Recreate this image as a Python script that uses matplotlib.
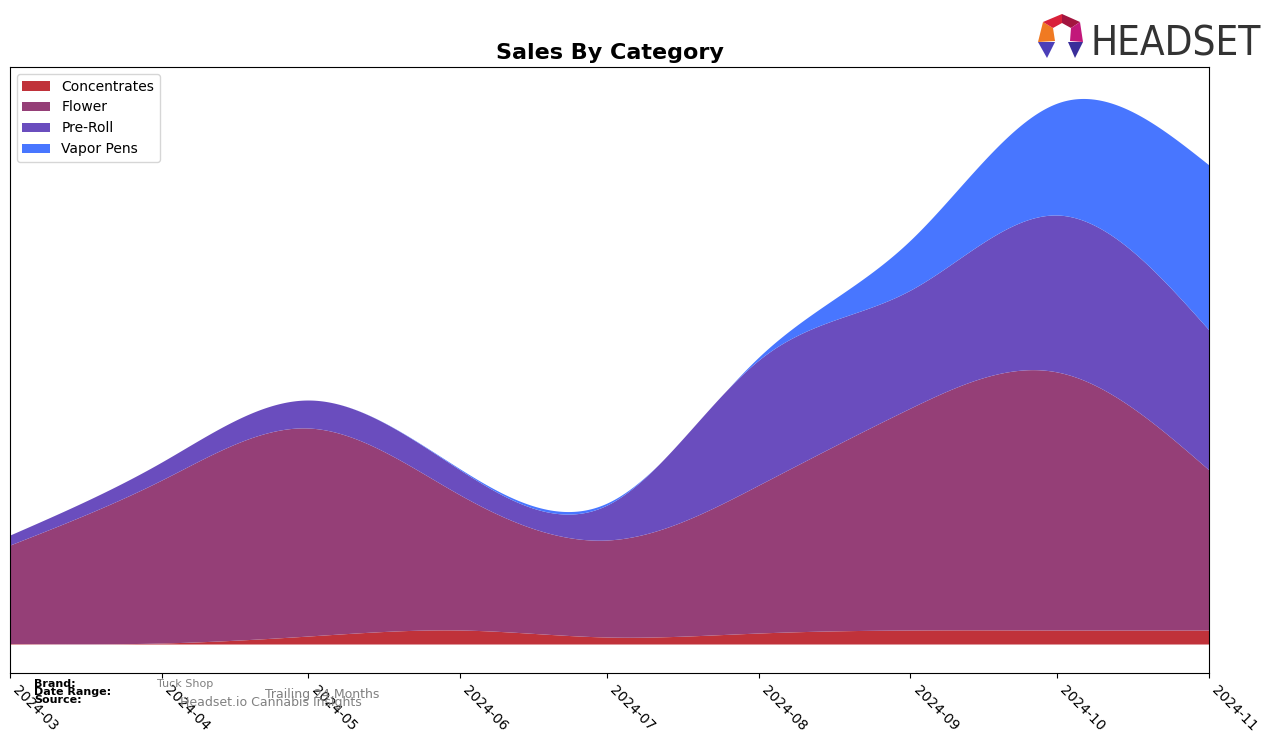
import numpy as np
import pandas as pd
import matplotlib
matplotlib.use("Agg")
import matplotlib.pyplot as plt
import matplotlib.dates as mdates
from matplotlib.patches import Polygon

months = ["2024-03", "2024-04", "2024-05", "2024-06", "2024-07",
          "2024-08", "2024-09", "2024-10", "2024-11"]
categories = ["Concentrates", "Flower", "Pre-Roll", "Vapor Pens"]
concentrates = [0.5, 1, 8, 14, 7, 11, 14, 14, 14]
flower = [98.5, 163, 208, 135, 97, 148, 222, 258, 160]
pre_roll = [10, 18, 28, 25, 35, 125, 118, 157, 140]
vapor_pens = [0, 0, 0, 1, 2, 3, 50, 112, 165]
colors = ["#C0323A", "#953F77", "#6A4DBE", "#4876FF"]


def natural_spline(x, y, xs):
    # plain natural cubic spline, only used to draw smooth edges
    x = np.asarray(x, float)
    y = np.asarray(y, float)
    n = len(x)
    h = np.diff(x)
    A = np.zeros((n, n))
    r = np.zeros(n)
    A[0, 0] = 1
    A[-1, -1] = 1
    for i in range(1, n - 1):
        A[i, i - 1] = h[i - 1]
        A[i, i] = 2 * (h[i - 1] + h[i])
        A[i, i + 1] = h[i]
        r[i] = 6 * ((y[i + 1] - y[i]) / h[i] - (y[i] - y[i - 1]) / h[i - 1])
    m = np.linalg.solve(A, r)
    idx = np.clip(np.searchsorted(x, xs) - 1, 0, n - 2)
    x0, x1 = x[idx], x[idx + 1]
    hh = x1 - x0
    t0 = x1 - xs
    t1 = xs - x0
    return (m[idx] * t0 ** 3 / (6 * hh) + m[idx + 1] * t1 ** 3 / (6 * hh)
            + (y[idx] / hh - m[idx] * hh / 6) * t0
            + (y[idx + 1] / hh - m[idx + 1] * hh / 6) * t1)


dates = pd.to_datetime(months)
xnum = mdates.date2num(dates)
xs = np.linspace(xnum[0], xnum[-1], 600)

W, H = 1276, 743
fig = plt.figure(figsize=(W / 100, H / 100), dpi=100)
ax = fig.add_axes([0.0078, 0.0942, 0.9397, 0.8156])

base = np.zeros_like(xs)
for name, vals, c in zip(categories, [concentrates, flower, pre_roll, vapor_pens], colors):
    layer = np.clip(natural_spline(xnum, vals, xs), 0, None)
    ax.fill_between(xs, base, base + layer, color=c, label=name, linewidth=0)
    base = base + layer

ax.set_xlim(xnum[0], xnum[-1])
ax.set_ylim(-29, 577)
ax.set_xticks(xnum)
ax.set_xticklabels(months, rotation=-45, ha="left", va="top")
ax.set_yticks([])
ax.set_title("Sales By Category", fontsize=16, fontweight="bold")
ax.legend(loc="upper left", fontsize=10)

fig.text(0.027, 0.076, "Brand:", fontsize=8, fontweight="bold")
fig.text(0.027, 0.065, "Date Range:", fontsize=8, fontweight="bold")
fig.text(0.027, 0.054, "Source:", fontsize=8, fontweight="bold")
fig.text(0.123, 0.075, "Tuck Shop", fontsize=8, color="gray")
fig.text(0.208, 0.061, "Trailing 24 Months", fontsize=9, color="gray")
fig.text(0.141, 0.050, "Headset.io Cannabis Insights", fontsize=9, color="gray")

# logo, drawn in pixel positions
def px(pts):
    return [(x / W, 1 - y / H) for x, y in pts]

logo_parts = [
    ([(1043, 22), (1053, 28), (1055, 41), (1038, 42)], "#F07A22"),
    ([(1043, 22), (1062, 14), (1062, 23), (1053, 28)], "#D9213A"),
    ([(1062, 14), (1080, 22), (1071, 28), (1062, 23)], "#A3153F"),
    ([(1080, 22), (1083, 42), (1070, 41), (1071, 28)], "#C2187A"),
    ([(1038, 42), (1055, 42), (1047, 58)], "#4B3FB8"),
    ([(1068, 42), (1083, 42), (1075, 58)], "#3A2E9A"),
]
for pts, c in logo_parts:
    fig.patches.append(Polygon(px(pts), closed=True, transform=fig.transFigure,
                               facecolor=c, edgecolor="none"))
fig.text(1091 / W, 1 - 55 / H, "HEADSET", fontsize=29, color="#333333",
         fontstretch="condensed")

fig.savefig("out.png", dpi=100)
